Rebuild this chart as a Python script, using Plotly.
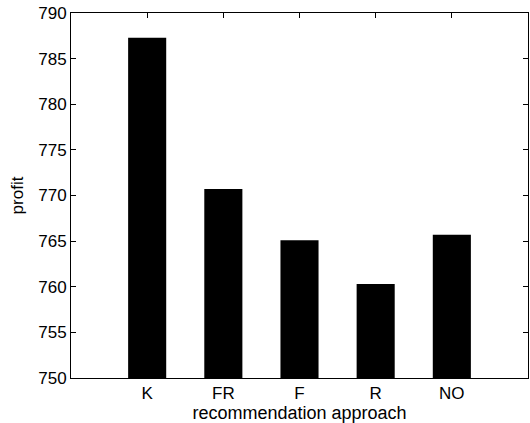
import plotly.graph_objects as go

categories = ["K", "FR", "F", "R", "NO"]
profit = [787.3, 770.7, 765.1, 760.3, 765.7]
y_ticks = [750, 755, 760, 765, 770, 775, 780, 785, 790]

font_family = "Liberation Sans, Arial, Helvetica, sans-serif"

fig = go.Figure(
    go.Bar(
        x=categories,
        y=profit,
        marker=dict(color="black", line=dict(color="black", width=0)),
        width=0.5,
    )
)

axis_common = dict(
    showline=True,
    linecolor="black",
    linewidth=1,
    mirror="allticks",
    ticks="inside",
    ticklen=5,
    tickcolor="black",
    tickwidth=1,
    showgrid=False,
    zeroline=False,
    tickfont=dict(family=font_family, size=17, color="black"),
)

fig.update_layout(
    width=530,
    height=423,
    margin=dict(l=71, r=2, t=13, b=45),
    paper_bgcolor="white",
    plot_bgcolor="white",
    showlegend=False,
    font=dict(family=font_family, size=17, color="black"),
    xaxis=dict(
        **axis_common,
        type="category",
        range=[-1, 5],
        title=dict(text="recommendation approach", standoff=0,
                   font=dict(family=font_family, size=18, color="black")),
    ),
    yaxis=dict(
        **axis_common,
        range=[750, 790],
        tickvals=y_ticks,
        title=dict(text="profit", standoff=10,
                   font=dict(family=font_family, size=17, color="black")),
    ),
)

fig.write_html(
    "out.html",
    config={"displayModeBar": False},
    post_script="document.body.style.margin='0';document.body.style.overflow='hidden';",
)
